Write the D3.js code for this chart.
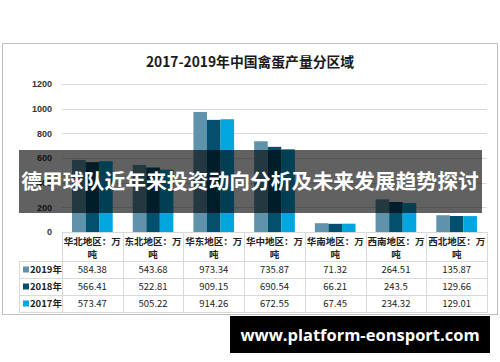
<!DOCTYPE html>
<head>
<meta charset="utf-8">
<title>2017-2019年中国禽蛋产量分区域</title>
<style>
    body { margin: 0; background: #fff; }
    svg { display: block; font-family: "Noto Sans CJK SC", "Liberation Sans", sans-serif; }
    .axis text { font-size: 9px; font-weight: bold; fill: #333; }
    .axis path, .axis line { display: none; }
    .grid line { stroke: #d9d9d9; stroke-width: 1px; shape-rendering: crispEdges; }
    .cell { fill: none; stroke: #d9d9d9; shape-rendering: crispEdges; }
    .tbl text { font-size: 9.5px; fill: #222; text-anchor: middle; }
    .hdr text { font-size: 9.5px; font-weight: bold; fill: #222; text-anchor: middle; }
</style>
</head>
<body>
<svg></svg>
<script src="https://cdn.jsdelivr.net/npm/d3@7"></script>
<script>

    var categories = ["华北地区：万吨", "东北地区：万吨", "华东地区：万吨", "华中地区：万吨", "华南地区：万吨", "西南地区：万吨", "西北地区：万吨"];
    var headLines = [["华北地区：万", "吨"], ["东北地区：万", "吨"], ["华东地区：万", "吨"], ["华中地区：万", "吨"], ["华南地区：万", "吨"], ["西南地区：万", "吨"], ["西北地区：万", "吨"]];
    var seriesNames = ["2019年", "2018年", "2017年"];
    var v2019 = [584.38, 543.68, 973.34, 735.87, 71.32, 264.51, 135.87];
    var v2018 = [566.41, 522.81, 909.15, 690.54, 66.21, 243.5, 129.66];
    var v2017 = [573.47, 505.22, 914.26, 672.55, 67.45, 234.32, 129.01];
    var yTicks = [0, 200, 400, 600, 800, 1000, 1200];

    var colors = ["#5f93ab", "#02506d", "#00a7de"];
    var values = [v2019, v2018, v2017];

    var svg = d3.select("svg").attr("width", 500).attr("height", 362);

    // chart frame
    svg.append("rect")
        .attr("x", 2.5).attr("y", 43.5).attr("width", 495).attr("height", 271)
        .attr("fill", "#fff").attr("stroke", "#bfbfbf");

    svg.append("text")
        .attr("x", 250).attr("y", 67)
        .attr("text-anchor", "middle")
        .style("font-size", "13.8px").style("font-weight", "bold").attr("fill", "#1a1a1a")
        .text("2017-2019年中国禽蛋产量分区域");

    var x = d3.scaleBand().domain(categories).range([62, 487]);
    var x1 = d3.scaleBand().domain(seriesNames)
        .range([x.bandwidth() * 0.165, x.bandwidth() * 0.835]);
    var y = d3.scaleLinear().domain([0, 1200]).range([232, 84]);

    svg.append("g").attr("class", "grid")
        .selectAll("line").data(yTicks.filter(function (d) { return d > 0; }))
        .enter().append("line")
        .attr("x1", 62).attr("x2", 487)
        .attr("y1", function (d) { return Math.round(y(d)) + 0.5; })
        .attr("y2", function (d) { return Math.round(y(d)) + 0.5; });

    svg.append("g").attr("class", "axis")
        .attr("transform", "translate(54,0)")
        .call(d3.axisLeft(y).tickValues(yTicks).tickFormat(d3.format("d")).tickSize(0).tickPadding(2));

    var group = svg.append("g").selectAll("g")
        .data(categories).enter().append("g")
        .attr("transform", function (d) { return "translate(" + x(d) + ",0)"; });

    group.selectAll("rect")
        .data(function (d, i) {
            return seriesNames.map(function (s, j) { return {s: s, v: values[j][i], c: colors[j]}; });
        })
        .enter().append("rect")
        .attr("x", function (d) { return x1(d.s); })
        .attr("width", x1.bandwidth())
        .attr("y", function (d) { return y(d.v); })
        .attr("height", function (d) { return y(0) - y(d.v); })
        .attr("fill", function (d) { return d.c; });

    // data table
    var rowY = d3.scaleBand().domain(seriesNames).range([261, 312]);
    var tbl = svg.append("g").attr("class", "tbl");

    categories.forEach(function (c, i) {
        tbl.append("rect").attr("class", "cell")
            .attr("x", x(c) + 0.5).attr("y", 232.5)
            .attr("width", x.bandwidth()).attr("height", 261 - 232);
        var h = svg.append("g").attr("class", "hdr");
        h.append("text").attr("x", x(c) + x.bandwidth() / 2).attr("y", 245).text(headLines[i][0]);
        h.append("text").attr("x", x(c) + x.bandwidth() / 2).attr("y", 258).text(headLines[i][1]);
        seriesNames.forEach(function (s, j) {
            tbl.append("rect").attr("class", "cell")
                .attr("x", x(c) + 0.5).attr("y", rowY(s) + 0.5)
                .attr("width", x.bandwidth()).attr("height", rowY.bandwidth());
            tbl.append("text")
                .attr("x", x(c) + x.bandwidth() / 2)
                .attr("y", rowY(s) + rowY.bandwidth() / 2 + 3.5)
                .text(values[j][i]);
        });
    });

    seriesNames.forEach(function (s, j) {
        tbl.append("rect").attr("class", "cell")
            .attr("x", 19.5).attr("y", rowY(s) + 0.5)
            .attr("width", 62 - 19).attr("height", rowY.bandwidth());
        tbl.append("rect")
            .attr("x", 23).attr("y", rowY(s) + rowY.bandwidth() / 2 - 3)
            .attr("width", 6).attr("height", 6).attr("fill", colors[j]);
        tbl.append("text")
            .attr("x", 30).attr("y", rowY(s) + rowY.bandwidth() / 2 + 3.5)
            .style("text-anchor", "start").style("font-weight", "bold")
            .text(s);
    });

    // overlay banner
    svg.append("rect")
        .attr("x", 19).attr("y", 150).attr("width", 463).attr("height", 63)
        .attr("fill", "rgba(0,0,0,0.62)");
    svg.append("text")
        .attr("x", 250).attr("y", 189)
        .attr("text-anchor", "middle")
        .style("font-size", "20.8px").style("font-weight", "bold").attr("fill", "#fff")
        .text("德甲球队近年来投资动向分析及未来发展趋势探讨");

    // watermark
    svg.append("rect")
        .attr("x", 230).attr("y", 316).attr("width", 260).attr("height", 37)
        .attr("fill", "#000");
    svg.append("text")
        .attr("x", 360).attr("y", 341)
        .attr("text-anchor", "middle")
        .style("font-size", "16.5px").style("font-weight", "bold").attr("fill", "#fff")
        .style("font-family", "'Open Sans', 'DejaVu Sans', sans-serif")
        .text("www.platform-eonsport.com");

</script>
</body>
